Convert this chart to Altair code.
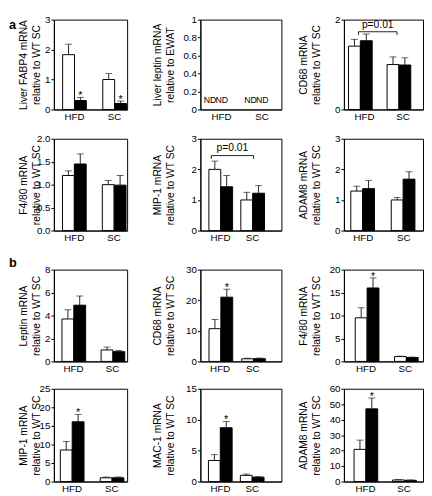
import altair as alt
import pandas as pd

FONT = "Liberation Sans"
GROUPS = ["HFD", "SC"]
SERIES = ["WT", "KO"]
SERIES_FILL = ["white", "black"]
PANEL_LABELS = ["a", "b"]

AXIS_TITLES = [
    ["Liver FABP4 mRNA", "relative to WT SC"],
    ["Liver leptin mRNA", "relative to EWAT"],
    ["CD68 mRNA", "relative to WT SC"],
    ["F4/80 mRNA", "relative to WT SC"],
    ["MIP-1 mRNA", "relative to WT SC"],
    ["ADAM8 mRNA", "relative to WT SC"],
    ["Leptin mRNA", "relative to WT SC"],
    ["CD68 mRNA", "relative to WT SC"],
    ["F4/80 mRNA", "relative to WT SC"],
    ["MIP-1 mRNA", "relative to WT SC"],
    ["MAC-1 mRNA", "relative to WT SC"],
    ["ADAM8 mRNA", "relative to WT SC"],
]
Y_TICKS = [
    [0, 1, 2, 3],
    [0, 0.2, 0.4, 0.6, 0.8, 1],
    [0, 1, 2],
    [0, 0.5, 1, 1.5, 2],
    [0, 1, 2, 3],
    [0, 1, 2, 3],
    [0, 2, 4, 6, 8],
    [0, 10, 20, 30],
    [0, 5, 10, 15, 20],
    [0, 5, 10, 15, 20, 25],
    [0, 5, 10, 15],
    [0, 10, 20, 30, 40, 50, 60],
]
Y_FORMATS = ["d", "~g", "d", ".1f", "d", "d", "d", "d", "d", "d", "d", "d"]

# means and SEM (HFD, SC); None = not detected
WT_MEAN = [[1.83, 1.0], None, [1.41, 1.0], [1.2, 1.0], [2.0, 1.0], [1.29, 1.0],
           [3.7, 1.0], [10.7, 0.85], [9.5, 1.05], [8.5, 1.0], [3.4, 1.0], [20.8, 1.0]]
WT_SEM = [[0.35, 0.2], None, [0.15, 0.17], [0.1, 0.09], [0.27, 0.25], [0.16, 0.08],
          [0.8, 0.25], [3.0, 0.2], [2.2, 0.1], [2.3, 0.2], [0.95, 0.2], [6.0, 0.3]]
KO_MEAN = [[0.3, 0.2], None, [1.53, 0.99], [1.45, 0.99], [1.43, 1.22], [1.37, 1.68],
           [4.9, 0.85], [21.0, 0.9], [16.0, 0.85], [16.1, 1.0], [8.7, 0.7], [47.0, 0.8]]
KO_SEM = [[0.1, 0.08], None, [0.15, 0.16], [0.22, 0.21], [0.37, 0.25], [0.27, 0.24],
          [0.8, 0.1], [2.6, 0.2], [2.2, 0.1], [2.0, 0.2], [1.0, 0.1], [7.0, 0.2]]
KO_STAR = [[True, True], None, [False, False], [False, False], [False, False], [False, False],
           [False, False], [True, False], [True, False], [True, False], [True, False], [True, False]]

ND_PANEL = 1
ND_LEVEL = 0.1
ND_TEXT = "ND"

P_PANELS = [2, 4]
P_LOW = [1.66, 2.34]
P_HIGH = [1.73, 2.45]
P_TEXT_Y = [1.87, 2.68]
P_LEFT_POS = [0.31, 0.1]
P_RIGHT_POS = [0.31, 0.55]
P_TEXT = "p=0.01"

PAD_INNER = [0.41, 0.14, 0.17, 0.41, 0.27, 0.385, 0.415, 0.32, 0.45, 0.42, 0.25, 0.41]
PAD_OUTER = [0.117, 0.07, 0.11, 0.124, 0.405, 0.17, 0.143, 0.40, 0.233, 0.128, 0.395, 0.23]
ALIGN = [0.93, 0.65, 0.54, 0.87, 0.33, 0.5, 0.72, 0.33, 0.62, 0.63, 0.32, 0.57]
COL_W = [75, 83, 81]
ROW_H = [92, 94, 94, 95]
TITLE_OFF = [13, 26, 23]
LINE_H = 13


def panel(i):
    r, c = divmod(i, 3)
    w, h = COL_W[c], ROW_H[r]
    pin, pout = PAD_INNER[i], PAD_OUTER[i]
    step = w / (2 - pin + 2 * pout)
    bw = step * (1 - pin)
    xscale = alt.Scale(domain=GROUPS, paddingInner=pin, paddingOuter=pout, align=ALIGN[i])
    xaxis = alt.Axis(title=None, labelAngle=0, ticks=False, labelPadding=2,
                     labelFontSize=10, labelColor="black", domainColor="black",
                     labelFont=FONT)
    yscale = alt.Scale(domain=[0, Y_TICKS[i][-1]], nice=False)
    yaxis = alt.Axis(title=AXIS_TITLES[i], values=Y_TICKS[i], format=Y_FORMATS[i],
                     grid=False, tickSize=3, tickColor="black", domainColor="black",
                     labelColor="black", labelFontSize=10, labelPadding=1, labelFont=FONT,
                     titleFont=FONT, titleFontSize=10.5, titleFontWeight="normal",
                     titleColor="black", titleAngle=270, titleAlign="center",
                     titleBaseline="bottom", titleLineHeight=LINE_H,
                     titleX=-(TITLE_OFF[c] + LINE_H), titleY=h / 2)
    X = alt.X("group:N", scale=xscale, axis=xaxis, sort=GROUPS)
    XO = alt.XOffset("series:N", sort=SERIES,
                     scale=alt.Scale(domain=SERIES, paddingInner=0, paddingOuter=0))
    layers = []
    if WT_MEAN[i] is not None:
        rows = []
        for g, gname in enumerate(GROUPS):
            rows.append(dict(group=gname, series="WT", mean=WT_MEAN[i][g],
                             top=WT_MEAN[i][g] + WT_SEM[i][g], star=False))
            rows.append(dict(group=gname, series="KO", mean=KO_MEAN[i][g],
                             top=KO_MEAN[i][g] + KO_SEM[i][g], star=KO_STAR[i][g]))
        df = pd.DataFrame(rows)
        base = alt.Chart(df)
        bars = base.mark_bar(stroke="black", strokeWidth=1).encode(
            x=X, xOffset=XO,
            y=alt.Y("mean:Q", scale=yscale, axis=yaxis),
            fill=alt.Fill("series:N", scale=alt.Scale(domain=SERIES, range=SERIES_FILL), legend=None),
        )
        err = base.mark_rule(color="#222", strokeWidth=1).encode(
            x=X, xOffset=XO, y=alt.Y("top:Q", scale=yscale, axis=yaxis), y2="mean:Q")
        cap = base.mark_tick(color="#222", thickness=1, size=7).encode(
            x=X, xOffset=XO, y=alt.Y("top:Q", scale=yscale, axis=yaxis))
        star = base.transform_filter(alt.datum.star).mark_text(
            text="*", font=FONT, fontSize=11, baseline="alphabetic", dy=2, color="black"
        ).encode(x=X, xOffset=XO, y=alt.Y("top:Q", scale=yscale, axis=yaxis))
        layers += [bars, err, cap, star]
    if i == ND_PANEL:
        nd = pd.DataFrame([dict(group=g, series=s, level=ND_LEVEL) for g in GROUPS for s in SERIES])
        layers.append(alt.Chart(nd).mark_text(text=ND_TEXT, font=FONT, fontSize=9, color="black").encode(
            x=X, xOffset=XO, y=alt.Y("level:Q", scale=yscale, axis=yaxis)))
    if i in P_PANELS:
        k = P_PANELS.index(i)
        lb, rb = P_LEFT_POS[k], P_RIGHT_POS[k]
        br = pd.DataFrame(dict(g1=["HFD"], g2=["SC"], lo=[P_LOW[k]], hi=[P_HIGH[k]], t=[P_TEXT_Y[k]]))
        bb = alt.Chart(br)
        XL = alt.X("g1:N", scale=xscale, axis=xaxis, sort=GROUPS, bandPosition=lb)
        XR = alt.X("g2:N", scale=xscale, axis=xaxis, sort=GROUPS, bandPosition=rb)
        Ylo = alt.Y("lo:Q", scale=yscale, axis=yaxis)
        Yhi = alt.Y("hi:Q", scale=yscale, axis=yaxis)
        layers.append(bb.mark_rule(color="#222", strokeWidth=1).encode(x=XL, y=Ylo, y2="hi:Q"))
        layers.append(bb.mark_rule(color="#222", strokeWidth=1).encode(x=XR, y=Ylo, y2="hi:Q"))
        layers.append(bb.mark_rule(color="#222", strokeWidth=1).encode(
            x=XL, x2=alt.X2("g2:N", bandPosition=rb), y=Yhi))
        mid = (lb + rb) / 2 + 0.5 / (1 - pin)
        extra = max(0.0, mid - 1.0) * bw
        XT = alt.X("g1:N", scale=xscale, axis=xaxis, sort=GROUPS, bandPosition=min(mid, 1.0))
        layers.append(bb.mark_text(text=P_TEXT, font=FONT, fontSize=10.5, color="black",
                                   dx=extra).encode(
            x=XT, y=alt.Y("t:Q", scale=yscale, axis=yaxis)))
    return alt.layer(*layers).properties(width=w, height=h)


S12, S23 = 24, 16
rows = []
for r in range(4):
    p = [panel(3 * r + c) for c in range(3)]
    rows.append(alt.hconcat(alt.hconcat(p[0], p[1], spacing=S12), p[2], spacing=S23))

main = alt.vconcat(
    alt.vconcat(rows[0], rows[1], spacing=11),
    alt.vconcat(rows[2], rows[3], spacing=9),
    spacing=21,
)

LABEL_COL_H = 260
lab_a = alt.Chart(pd.DataFrame({"t": [PANEL_LABELS[0]]})).mark_text(
    font=FONT, fontSize=13, fontWeight="bold", align="left", baseline="alphabetic", color="black"
).encode(text="t:N", x=alt.value(0), y=alt.value(10))
lab_b = alt.Chart(pd.DataFrame({"t": [PANEL_LABELS[1]]})).mark_text(
    font=FONT, fontSize=13, fontWeight="bold", align="left", baseline="alphabetic", color="black"
).encode(text="t:N", x=alt.value(0), y=alt.value(253))
label_col = alt.layer(lab_a, lab_b).properties(
    width=1, height=LABEL_COL_H, view=alt.ViewBackground(stroke="transparent"))

chart = alt.hconcat(label_col, main, spacing=0).properties(padding=0).configure(
    font=FONT).configure_view(stroke="black", strokeWidth=1)

chart.save("out.html", embed_options={"renderer": "svg", "actions": False})
